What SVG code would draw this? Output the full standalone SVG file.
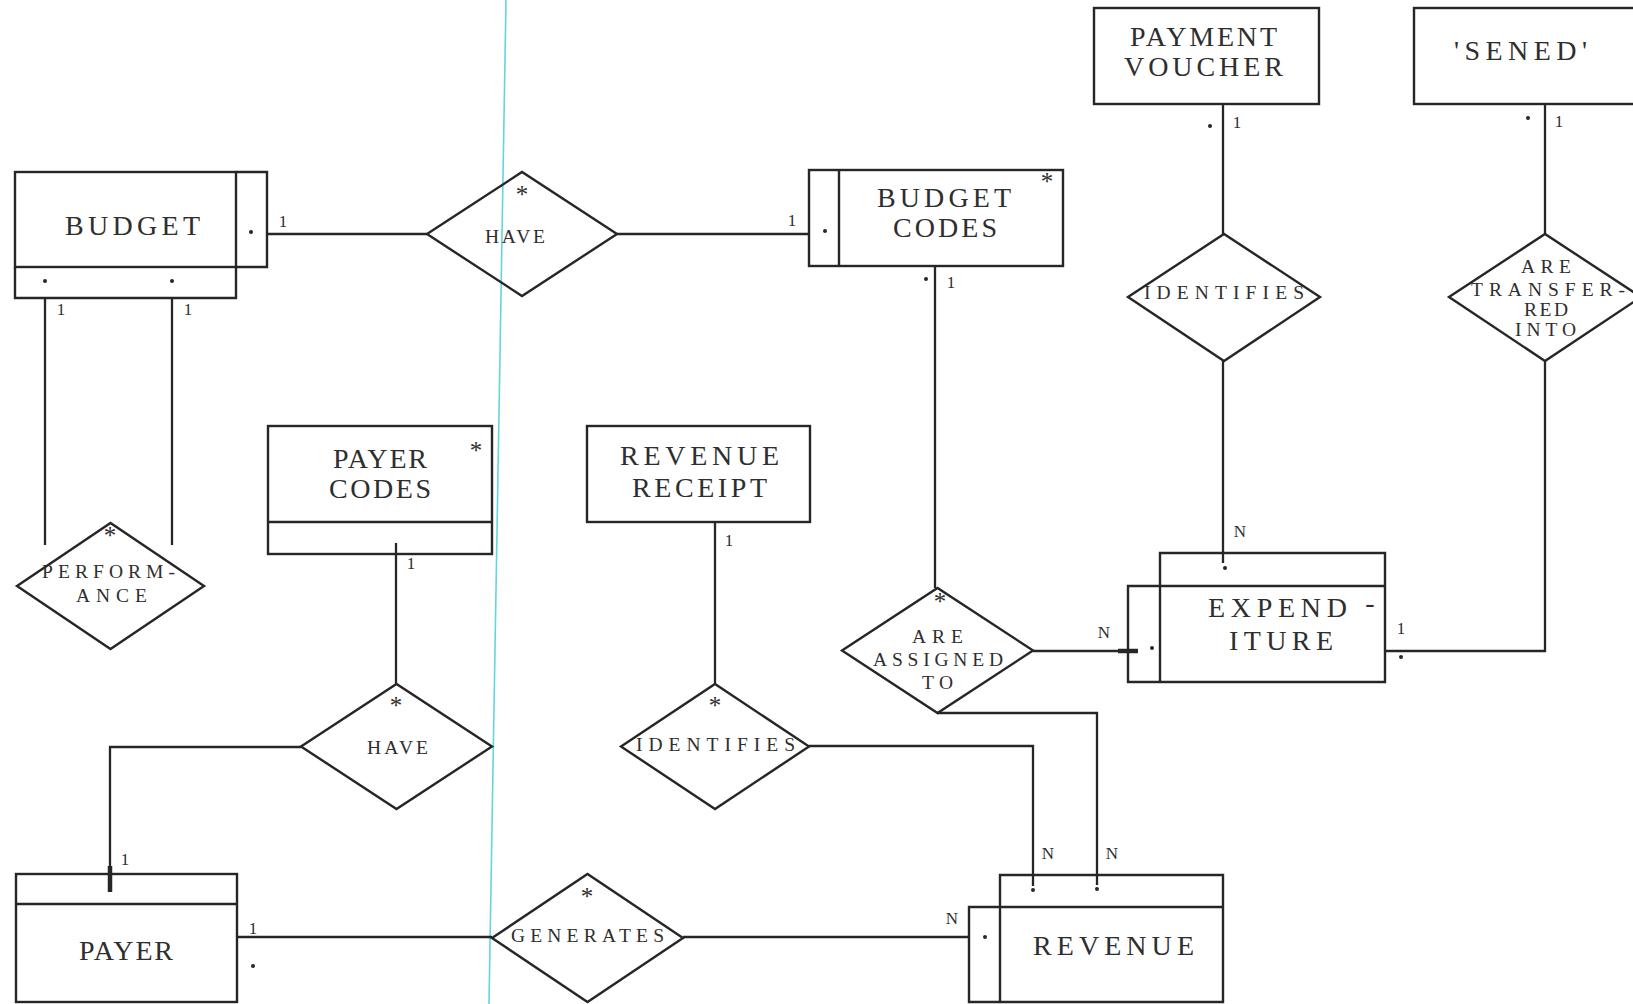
<svg xmlns="http://www.w3.org/2000/svg" width="1633" height="1004" viewBox="0 0 1633 1004">
  <style>
    .ln { fill: none; stroke: #262626; stroke-width: 2.3; }
    .tk { fill: none; stroke: #262626; stroke-width: 4.5; }
    .bx { fill: none; stroke: #262626; stroke-width: 2.4; }
    .dm { fill: none; stroke: #262626; stroke-width: 2.4; stroke-linejoin: miter; }
    .dot { fill: #262626; }
    text { font-family: "Liberation Serif", "Times New Roman", serif; fill: #2e2e2e; }
    .ent { font-size: 28px; text-anchor: middle; }
    .rel { font-size: 19.5px; text-anchor: middle; }
    .card { font-size: 17px; text-anchor: middle; }
    .star { font-size: 25px; text-anchor: middle; }
    .guide { stroke: #62d6de; stroke-width: 1.6; }
  </style>

  <rect width="1633" height="1004" fill="#ffffff"/>

  <!-- thin vertical guide line -->
  <line class="guide" x1="506" y1="0" x2="489" y2="1004"/>

  <!-- connectors -->
  <g id="connectors">
    <path class="ln" d="M266 234 H427"/>
    <path class="ln" d="M617 234 H809"/>
    <path class="ln" d="M45 297 V545"/>
    <path class="ln" d="M172 297 V545"/>
    <path class="ln" d="M935 266 V588"/>
    <path class="ln" d="M1223 104 V234"/>
    <path class="ln" d="M1223 361 V563"/>
    <path class="ln" d="M1545 104 V234"/>
    <path class="ln" d="M1545 361 V651 H1385"/>
    <path class="ln" d="M1033 651 H1128"/>
    <path class="tk" d="M1118 651 H1138"/>
    <path class="ln" d="M937 713 H1097 V885"/>
    <path class="ln" d="M396 543 V684"/>
    <path class="ln" d="M301 747 H110 V874"/>
    <path class="tk" d="M110 866 V892"/>
    <path class="ln" d="M715 522 V684"/>
    <path class="ln" d="M809 746 H1033 V886"/>
    <path class="ln" d="M237 937 H492"/>
    <path class="ln" d="M683 937 H969"/>
  </g>

  <!-- cardinality labels and dots -->
  <g id="cardinalities">
    <text class="card" x="283" y="227">1</text>
    <text class="card" x="61" y="315">1</text>
    <text class="card" x="188" y="315">1</text>
    <text class="card" x="792" y="226">1</text>
    <text class="card" x="951" y="288">1</text>
    <text class="card" x="1237" y="128">1</text>
    <text class="card" x="1559" y="127">1</text>
    <text class="card" x="1240" y="537">N</text>
    <text class="card" x="1104" y="638">N</text>
    <text class="card" x="1401" y="634">1</text>
    <text class="card" x="411" y="569">1</text>
    <text class="card" x="729" y="546">1</text>
    <text class="card" x="125" y="865">1</text>
    <text class="card" x="253" y="934">1</text>
    <text class="card" x="952" y="924">N</text>
    <text class="card" x="1048" y="859">N</text>
    <text class="card" x="1112" y="859">N</text>
    <circle class="dot" cx="926" cy="279" r="2"/>
    <circle class="dot" cx="1210" cy="126" r="2"/>
    <circle class="dot" cx="1528" cy="118" r="2"/>
    <circle class="dot" cx="1401" cy="657" r="2"/>
    <circle class="dot" cx="253" cy="966" r="2"/>
  </g>

  <!-- entities -->
  <g id="budget">
    <rect class="bx" x="15" y="172" width="221" height="95"/>
    <path class="bx" d="M236 172 H267 V267 H236"/>
    <path class="bx" d="M15 267 V298 H236 V267"/>
    <circle class="dot" cx="251" cy="232" r="2"/>
    <circle class="dot" cx="45" cy="281" r="2"/>
    <circle class="dot" cx="172" cy="281" r="2"/>
    <text class="ent" x="132.5" y="235" textLength="135" lengthAdjust="spacing">BUDGET</text>
  </g>

  <g id="budget-codes">
    <rect class="bx" x="809" y="170" width="254" height="96"/>
    <line class="bx" x1="839" y1="170" x2="839" y2="266"/>
    <circle class="dot" cx="825" cy="231" r="2"/>
    <text class="ent" x="944" y="207" textLength="134" lengthAdjust="spacing">BUDGET</text>
    <text class="ent" x="945" y="237" textLength="104" lengthAdjust="spacing">CODES</text>
    <text class="star" x="1047" y="190">*</text>
  </g>

  <g id="payment-voucher">
    <rect class="bx" x="1094" y="8" width="225" height="96"/>
    <text class="ent" x="1203.5" y="46" textLength="147" lengthAdjust="spacing">PAYMENT</text>
    <text class="ent" x="1203.5" y="76" textLength="159" lengthAdjust="spacing">VOUCHER</text>
  </g>

  <g id="sened">
    <rect class="bx" x="1414" y="8" width="230" height="96"/>
    <text class="ent" x="1520.5" y="60" textLength="133" lengthAdjust="spacing">'SENED'</text>
  </g>

  <g id="payer-codes">
    <rect class="bx" x="268" y="426" width="224" height="128"/>
    <line class="bx" x1="268" y1="522" x2="492" y2="522"/>
    <text class="ent" x="380" y="468" textLength="94" lengthAdjust="spacing">PAYER</text>
    <text class="ent" x="380" y="498" textLength="102" lengthAdjust="spacing">CODES</text>
    <text class="star" x="476" y="459">*</text>
  </g>

  <g id="revenue-receipt">
    <rect class="bx" x="587" y="426" width="223" height="96"/>
    <text class="ent" x="699.5" y="465" textLength="159" lengthAdjust="spacing">REVENUE</text>
    <text class="ent" x="699.5" y="497" textLength="135" lengthAdjust="spacing">RECEIPT</text>
  </g>

  <g id="expenditure">
    <path class="bx" d="M1160 586 V553 H1385 V682 H1128 V586 H1385"/>
    <line class="bx" x1="1160" y1="586" x2="1160" y2="682"/>
    <circle class="dot" cx="1225" cy="568" r="2"/>
    <circle class="dot" cx="1152" cy="648" r="2"/>
    <text class="ent" x="1277.5" y="617" textLength="139" lengthAdjust="spacing">EXPEND</text>
    <text class="ent" x="1370" y="612">-</text>
    <text class="ent" x="1281" y="650" textLength="104" lengthAdjust="spacing">ITURE</text>
  </g>

  <g id="payer">
    <rect class="bx" x="16" y="874" width="221" height="128"/>
    <line class="bx" x1="16" y1="904" x2="237" y2="904"/>
    <text class="ent" x="126" y="960" textLength="94" lengthAdjust="spacing">PAYER</text>
  </g>

  <g id="revenue">
    <path class="bx" d="M1000 1002 V875 H1223 V1002 H969 V907 H1223"/>
    <circle class="dot" cx="1033" cy="890" r="2"/>
    <circle class="dot" cx="1097" cy="889" r="2"/>
    <circle class="dot" cx="985" cy="937" r="2"/>
    <text class="ent" x="1113.5" y="955" textLength="161" lengthAdjust="spacing">REVENUE</text>
  </g>

  <!-- relationships -->
  <g id="have-budget-codes">
    <polygon class="dm" points="427,234 522,172 617,234 522,296"/>
    <text class="star" x="522" y="203">*</text>
    <text class="rel" x="515" y="243" textLength="60" lengthAdjust="spacing">HAVE</text>
  </g>

  <g id="identifies-voucher">
    <polygon class="dm" points="1128,297 1224,234 1320,297 1224,361"/>
    <text class="rel" x="1224" y="299" textLength="160" lengthAdjust="spacing">IDENTIFIES</text>
  </g>

  <g id="are-transferred-into">
    <polygon class="dm" points="1449,297 1545,234 1641,297 1545,361"/>
    <text class="rel" x="1546" y="273" textLength="50" lengthAdjust="spacing">ARE</text>
    <text class="rel" x="1548" y="296" textLength="154" lengthAdjust="spacing">TRANSFER-</text>
    <text class="rel" x="1546" y="316" textLength="44" lengthAdjust="spacing">RED</text>
    <text class="rel" x="1545.5" y="336" textLength="61" lengthAdjust="spacing">INTO</text>
  </g>

  <g id="performance">
    <polygon class="dm" points="17,586 110.5,523 204,586 110.5,649"/>
    <text class="star" x="110" y="544">*</text>
    <text class="rel" x="108.5" y="578" textLength="133" lengthAdjust="spacing">PERFORM-</text>
    <text class="rel" x="111.5" y="602" textLength="71" lengthAdjust="spacing">ANCE</text>
  </g>

  <g id="are-assigned-to">
    <polygon class="dm" points="842,650.5 937.5,588 1033,650.5 937.5,713"/>
    <text class="star" x="940" y="610">*</text>
    <text class="rel" x="937.5" y="643" textLength="51" lengthAdjust="spacing">ARE</text>
    <text class="rel" x="938" y="666" textLength="130" lengthAdjust="spacing">ASSIGNED</text>
    <text class="rel" x="937.5" y="689" textLength="31" lengthAdjust="spacing">TO</text>
  </g>

  <g id="have-payer-codes">
    <polygon class="dm" points="301,746.5 396.5,684 492,746.5 396.5,809"/>
    <text class="star" x="396" y="714">*</text>
    <text class="rel" x="397.5" y="754" textLength="61" lengthAdjust="spacing">HAVE</text>
  </g>

  <g id="identifies-receipt">
    <polygon class="dm" points="621,746.5 715,684 809,746.5 715,809"/>
    <text class="star" x="715" y="714">*</text>
    <text class="rel" x="715.5" y="751" textLength="159" lengthAdjust="spacing">IDENTIFIES</text>
  </g>

  <g id="generates">
    <polygon class="dm" points="492,938 587.5,874 683,938 587.5,1002"/>
    <text class="star" x="587" y="905">*</text>
    <text class="rel" x="587.5" y="942" textLength="153" lengthAdjust="spacing">GENERATES</text>
  </g>
</svg>
